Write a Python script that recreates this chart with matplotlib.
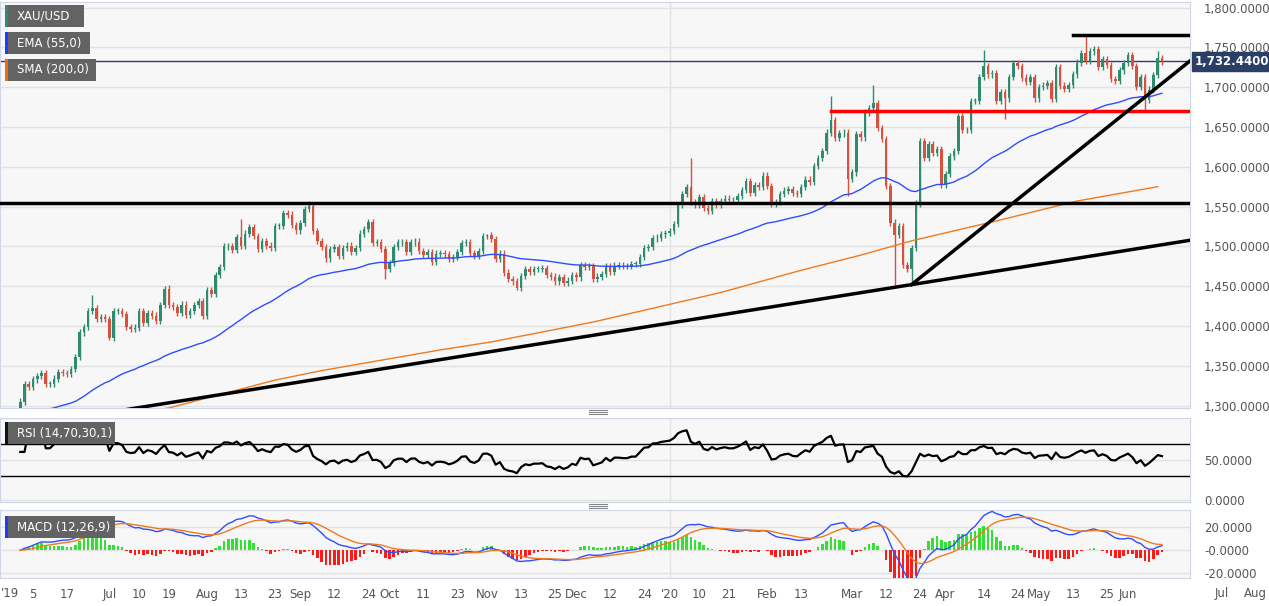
import numpy as np
import pandas as pd
import matplotlib
matplotlib.use("Agg")
import matplotlib.pyplot as plt
from matplotlib.patches import Rectangle

# daily closes XAU/USD (weekday bars)
c_2019 = [1305,
    1327,1324,1333,1337,1341, 1327,1327,1334,1342,1341, 1340,1346,1361,1392,1399, 1419,1423,1409,1411,1409,
    1385,1419,1419,1415,1399, 1396,1398,1419,1404,1416, 1413,1406,1426,1446,1426, 1424,1416,1427,1414,1419, 1426,1431,1413,
    1445,1440, 1464,1474,1500,1500,1496, 1512,1501,1516,1524,1513, 1497,1507,1501,1498,1526, 1526,1542,1540,1527,1520,
    1529,1547,1551,1519,1507, 1499,1485,1497,1499,1488, 1498,1501,1493,1498,1516, 1522,1531,1504,1505,1497, 1472,
    1479,1499,1505,1505, 1493,1505,1506,1494,1489, 1493,1481,1491,1492,1490, 1484,1487,1493,1504,1505, 1492,1488,1494,1513,
    1514, 1509,1484,1491,1467,1459, 1456,1448,1463,1471,1468, 1472,1472,1473,1464,1462, 1456,1461,1454,1457,1464,
    1461,1477,1474,1475,1459, 1462,1465,1475,1468,1476, 1476,1475,1475,1478,1478, 1487,1498,1499,1510,1511, 1515,1517]
c_2020 = [1519,1528,1552, 1566,1574,1556,1552,1562, 1548,1545,1557,1552,1557, 1560,1558,1558,1563,1571, 1582,1567,1577,1575,1589,
    1576,1554,1556,1566,1570, 1572,1567,1566,1575,1584, 1581,1601,1611,1620,1643, 1659,1636,1642,1643,1585,
    1593,1641,1637,1668,1674, 1680,1649,1635,1576,1530, 1514,1526,1477,1472,1498, 1554,1632,1611,1629,1617, 1622,1577,
    1591,1613,1620, 1664,1646,1646,1683,1683, 1713,1727,1716,1718,1683, 1694,1686,1713,1730,1727, 1712,1707,1713,1686,
    1700, 1702,1705,1685,1725,1702, 1698,1703,1716,1731,1743, 1733,1745,1748,1725,1735, 1728,1710,1708,1721,1730,
    1740,1727,1700,1713,1684, 1697,1715,1737,1732.44]
closes = np.array(c_2019 + c_2020, dtype=float)
prev_close = 1292.0

# notable wick extremes
wick_high = {'2019-06-25': 1439, '2019-07-19': 1452, '2019-08-13': 1535, '2019-09-04': 1557,
             '2019-09-24': 1535, '2019-11-01': 1516, '2020-01-08': 1611, '2020-02-24': 1689,
             '2020-03-09': 1703, '2020-04-14': 1747, '2020-05-18': 1765, '2020-06-10': 1745}
wick_low = {'2019-07-01': 1382, '2019-09-30': 1459, '2019-11-12': 1445, '2020-02-28': 1563,
            '2020-03-16': 1451, '2020-03-20': 1452, '2020-04-21': 1660, '2020-06-05': 1671}

# SMA 200
sma_dates = ['2019-07-03','2019-07-19','2019-08-23','2019-09-09','2019-10-17','2019-11-04','2019-12-06',
             '2020-01-17','2020-02-13','2020-03-04','2020-03-20','2020-04-17','2020-05-14','2020-06-10']
sma_vals = [1288,1297,1332,1344,1370,1380,1405,1442,1470,1489,1507,1532,1557,1575]
ema_seed = 1285.0

tick_dates = ['2019-06-05','2019-06-17','2019-07-01','2019-07-10','2019-07-19','2019-08-01',
              '2019-08-13','2019-08-23','2019-09-02','2019-09-12','2019-09-24','2019-10-01','2019-10-11',
              '2019-10-23','2019-11-01','2019-11-13','2019-11-25','2019-12-02','2019-12-12','2019-12-24',
              '2020-01-01','2020-01-10','2020-01-21','2020-02-03','2020-02-13','2020-03-02','2020-03-12',
              '2020-03-24','2020-04-01','2020-04-14','2020-04-24','2020-05-01','2020-05-13','2020-05-25',
              '2020-06-01']
tick_labels = ['5','17','Jul','10','19','Aug','13','23','Sep','12','24','Oct','11','23','Nov','13','25',
               'Dec','12','24',"'20",'10','21','Feb','13','Mar','12','24','Apr','14','24','May','13','25',
               'Jun']
future_dates = ['2020-07-01', '2020-08-03']
future_labels = ['Jul', 'Aug']

allidx = pd.bdate_range('2019-05-31', '2020-08-31')
pos = {d: i for i, d in enumerate(allidx)}
def ix(s):
    return pos[pd.Timestamp(s)]

opens = np.concatenate([[prev_close], closes[:-1]])
highs = np.maximum(opens, closes) + 4
lows = np.minimum(opens, closes) - 4
for d, v in wick_high.items():
    highs[ix(d)] = v
for d, v in wick_low.items():
    lows[ix(d)] = v

s = pd.Series(np.concatenate([[ema_seed], closes]))
ema55 = s.ewm(span=55, adjust=False).mean().values[1:]
cs = pd.Series(closes)
macd = cs.ewm(span=12, adjust=False).mean() - cs.ewm(span=26, adjust=False).mean()
signal = macd.ewm(span=9, adjust=False).mean()
hist = macd - signal
delta = cs.diff().fillna(0)
up = delta.clip(lower=0).ewm(alpha=1/14, adjust=False).mean()
dn = (-delta.clip(upper=0)).ewm(alpha=1/14, adjust=False).mean()
rsi = 100 - 100 / (1 + up / dn.replace(0, np.nan))
rsi = rsi.fillna(60)

# x scale: Jun 5 2019 at 33px, Jun 1 2020 at 1128px, axes 1190px wide
ppb = (1128 - 33) / (ix('2020-06-01') - ix('2019-06-05'))
x_left = ix('2019-06-05') - 33 / ppb
x_right = x_left + 1190 / ppb
W, H = 1269, 606

fig = plt.figure(figsize=(W/100, H/100), dpi=100)
bg = '#f7f7f7'
edge = '#cfd6e6'
green, red = '#2f8a6f', '#d7513f'
ax = fig.add_axes([0, 1 - 408/H, 1190/W, 406/H])
ax_r = fig.add_axes([0, 1 - 502/H, 1190/W, 84/H])
ax_m = fig.add_axes([0, 1 - 578/H, 1190/W, 68/H])

for a in (ax, ax_r, ax_m):
    a.set_facecolor(bg)
    a.yaxis.tick_right()
    a.tick_params(axis='y', length=0, labelsize=8.5, labelcolor='#555555', pad=10)
    a.tick_params(axis='x', length=0)
    for sp in a.spines.values():
        sp.set_color(edge)
    a.grid(axis='y', color='#e2e2e2', lw=1)
    a.set_axisbelow(True)
    a.set_xticks([])
    a.axvline(ix('2020-01-01'), color='#e2e2e2', lw=1, zorder=0)

x = np.arange(len(closes))
# main panel
ax.set_ylim(1297, 1807)
yt = np.arange(1300, 1801, 50)
ax.set_yticks(yt)
ax.set_yticklabels([f'{v:,.4f}' for v in yt])
col = np.where(closes >= opens, green, red)
ax.vlines(x, lows, highs, color=col, lw=1, zorder=3)
body = np.maximum(np.abs(closes - opens), 0.8)
ax.bar(x, body, bottom=np.minimum(opens, closes), width=0.6, color=col, zorder=4)
ax.plot(x, ema55, color='#2f4dff', lw=1, zorder=5)
ax.plot([ix(d) for d in sma_dates], sma_vals, color='#f07a1e', lw=1, zorder=5)

last = closes[-1]
ax.axhline(last, color='#2b3f66', lw=1, zorder=2)
ax.axhline(1555, color='black', lw=2.5, zorder=6)
ax.plot([ix('2020-02-24'), x_right], [1670, 1670], color='#ff0000', lw=2.5, zorder=6)
ax.plot([ix('2020-05-13'), x_right], [1765, 1765], color='black', lw=2.5, zorder=6)
# long uptrend and steep uptrend from the March low
p0, p1 = ix('2020-03-20'), ix('2019-07-05')
slope = (1452 - 1295) / (p0 - p1)
ax.plot([x_left, x_right], [1452 + slope * (x_left - p0), 1452 + slope * (x_right - p0)],
        color='black', lw=2.5, zorder=6)
ax.plot([p0, x_right], [1452, 1733], color='black', lw=2.5, zorder=6)
ax.text(1.004, last, f'{last:,.4f}', transform=ax.get_yaxis_transform(), va='center', ha='left',
        color='white', fontsize=8.5, fontweight='bold', clip_on=False,
        bbox=dict(boxstyle='square,pad=0.25', fc='#2b3f66', ec='#2b3f66'))

# RSI panel
ax_r.set_ylim(-2, 102)
ax_r.set_yticks([0, 50])
ax_r.set_yticklabels(['0.0000', '50.0000'])
ax_r.axhline(70, color='black', lw=1)
ax_r.axhline(30, color='black', lw=1)
ax_r.plot(x, rsi, color='black', lw=1.6, zorder=5)

# MACD panel
ax_m.set_ylim(-24, 35)
ax_m.set_yticks([-20, 0, 20])
ax_m.set_yticklabels(['-20.0000', '-0.0000', '20.0000'])
ax_m.bar(x, hist * 1.6, width=0.6, color=np.where(hist >= 0, '#33e033', '#ff1a1a'), zorder=3)
ax_m.plot(x, macd, color='#2f4dff', lw=1, zorder=4)
ax_m.plot(x, signal, color='#f07a1e', lw=1, zorder=4)

ax_m.set_xticks([ix(d) for d in tick_dates])
ax_m.set_xticklabels(tick_labels, fontsize=8.5, color='#555555')
ax_m.tick_params(axis='x', pad=7)
xt = ax_m.get_xaxis_transform()
fig.text(1/W, 1 - 587/H, "'19", ha='left', va='top', fontsize=8.5, color='#555555')
ax_m.text(ix(future_dates[0]), -0.13, future_labels[0], transform=xt, ha='center', va='top',
          fontsize=8.5, color='#555555', clip_on=False)
fig.text(1267/W, 1 - 587/H, future_labels[1], ha='right', va='top', fontsize=8.5, color='#555555')
for a in (ax, ax_r, ax_m):
    a.set_xlim(x_left, x_right)

# indicator name tags
def tag(ypx, text, c, wpx):
    fig.add_artist(Rectangle((7/W, 1 - (ypx + 11)/H), wpx/W, 22/H, fc='#636363', ec='none', zorder=20))
    fig.add_artist(Rectangle((5/W, 1 - (ypx + 11)/H), 3/W, 22/H, fc=c, ec='none', zorder=21))
    fig.text(17/W, 1 - ypx/H, text, ha='left', va='center', color='white', fontsize=8.5, zorder=22)

tag(16, 'XAU/USD', '#2f8a6f', 77)
tag(43, 'EMA (55,0)', '#1d3cff', 83)
tag(70, 'SMA (200,0)', '#f06a10', 89)
tag(433, 'RSI (14,70,30,1)', '#111111', 108)
tag(527, 'MACD (12,26,9)', '#1d3cff', 108)

# panel resize handles
for yy in (412, 506):
    for k in range(3):
        fig.add_artist(plt.Line2D([589/W, 607/W], [1 - (yy - 2 + 2*k)/H] * 2, color='#888888', lw=0.8))

fig.savefig('out.png', dpi=100, facecolor='white')
